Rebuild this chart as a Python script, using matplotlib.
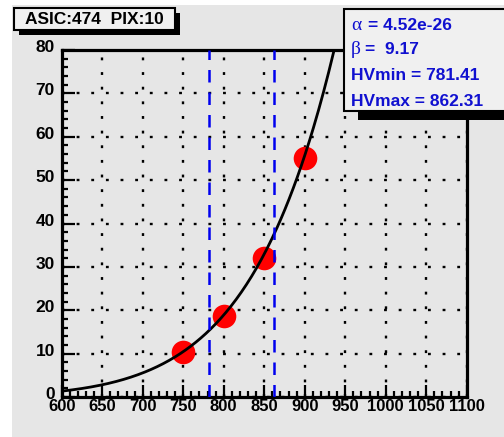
import numpy as np
import matplotlib
matplotlib.use("Agg")
import matplotlib.pyplot as plt
import matplotlib.transforms as mtransforms
from matplotlib.patches import Rectangle
from matplotlib.ticker import MultipleLocator

# measured points (HV vs gain)
hv = [750, 800, 850, 900]
gain = [10.4, 18.7, 32.0, 55.1]

# fit results shown in the stats box
alpha = 4.52e-26
beta = 9.17
hv_min = 781.41
hv_max = 862.31
title = "ASIC:474  PIX:10"

W, H = 504, 437
BG = "#e6e6e6"
plt.rcParams['font.family'] = ['Liberation Sans', 'DejaVu Sans']

fig = plt.figure(figsize=(W / 100, H / 100), dpi=100, facecolor="white")

def px(x, y):
    return x / W, 1 - y / H

# gray canvas
fig.patches.append(Rectangle(px(12, 437), (W - 12) / W, 432 / H, transform=fig.transFigure,
                             facecolor=BG, edgecolor="none", zorder=-5))

x0, y0 = px(61.7, 397)
x1, y1 = px(466.7, 50)
ax = fig.add_axes([x0, y0, x1 - x0, y1 - y0], facecolor=BG)

ax.set_xlim(600, 1100)
ax.set_ylim(0, 80)
ax.xaxis.set_major_locator(MultipleLocator(50))
ax.xaxis.set_minor_locator(MultipleLocator(10))
ax.yaxis.set_major_locator(MultipleLocator(10))
ax.yaxis.set_minor_locator(MultipleLocator(2))

ax.grid(True, which="major", color="black", linestyle=(0, (1.2, 5)), linewidth=1.7, zorder=1)
ax.set_axisbelow(True)

for s in ax.spines.values():
    s.set_linewidth(2.3)
ax.tick_params(which="both", direction="in", width=1.6, top=False, right=False)
ax.tick_params(which="major", length=9)
ax.tick_params(which="minor", length=4.5)
ax.tick_params(axis="y", pad=5)
ax.tick_params(axis="x", pad=1.5)
for lab in ax.get_xticklabels():
    lab.set_fontweight("bold")
    lab.set_fontsize(12)
shift_up = mtransforms.ScaledTranslation(0, 4 / 100, fig.dpi_scale_trans)
for lab in ax.get_yticklabels():
    lab.set_fontweight("bold")
    lab.set_fontsize(12.5)
    lab.set_transform(lab.get_transform() + shift_up)

ax.plot(hv, gain, "o", color="#ff0000", markersize=17, markeredgewidth=0, zorder=3)

xf = np.linspace(600, 1100, 400)
ax.plot(xf, alpha * xf ** beta, color="black", linewidth=2.0, zorder=4)

for v in (hv_min, hv_max):
    ax.axvline(v, color="#0000ee", linestyle=(0, (5, 4)), linewidth=1.8, zorder=5)

# title box with shadow
tx0, tx1, ty0, ty1 = 14, 175, 8, 30
fig.patches.append(Rectangle(px(tx0 + 5, ty1 + 5), (tx1 - tx0) / W, (ty1 - ty0) / H,
                             transform=fig.transFigure, facecolor="black", zorder=6))
fig.patches.append(Rectangle(px(tx0, ty1), (tx1 - tx0) / W, (ty1 - ty0) / H,
                             transform=fig.transFigure, facecolor="#f0f0f0",
                             edgecolor="black", linewidth=1.5, zorder=7))
fig.text(*px((tx0 + tx1) / 2, (ty0 + ty1) / 2 + 1), title, ha="center", va="center",
         fontsize=12.5, fontweight="bold", zorder=8)

# stats box with shadow
sx0, sx1, sy0, sy1 = 344, 510, 9, 111
fig.patches.append(Rectangle(px(sx0 + 14, sy1 + 9), (sx1 - sx0) / W, (sy1 - sy0) / H,
                             transform=fig.transFigure, facecolor="black", zorder=6))
fig.patches.append(Rectangle(px(sx0, sy1), (sx1 - sx0) / W, (sy1 - sy0) / H,
                             transform=fig.transFigure, facecolor="#f0f0f0",
                             edgecolor="black", linewidth=1.5, zorder=7))
blue = "#1010d0"
fig.text(*px(351, 25), "α", family=["Liberation Serif", "DejaVu Serif"], fontsize=14,
         color=blue, va="center", zorder=8)
fig.text(*px(368, 25), "= %.2e" % alpha, fontsize=12.5, fontweight="bold", color=blue,
         va="center", zorder=8)
fig.text(*px(351, 50), "β", family=["Liberation Serif", "DejaVu Serif"], fontsize=14,
         color=blue, va="center", zorder=8)
fig.text(*px(365, 50), "=  %.2f" % beta, fontsize=12.5, fontweight="bold", color=blue,
         va="center", zorder=8)
fig.text(*px(351, 76), "HVmin = %.2f" % hv_min, fontsize=12.5, fontweight="bold", color=blue,
         va="center", zorder=8)
fig.text(*px(351, 102), "HVmax = %.2f" % hv_max, fontsize=12.5, fontweight="bold", color=blue,
         va="center", zorder=8)

fig.savefig("out.png", dpi=100, facecolor="white")
